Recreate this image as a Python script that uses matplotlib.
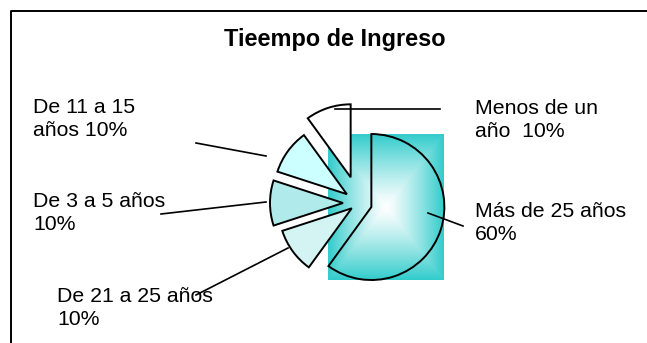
import numpy as np
import matplotlib
matplotlib.use("Agg")
import matplotlib.pyplot as plt

plt.rcParams['font.family'] = ['Liberation Sans', 'DejaVu Sans']

# datos
categorias = ['Más de 25 años', 'De 21 a 25 años', 'De 3 a 5 años', 'De 11 a 15 años', 'Menos de un año']
porcentajes = [60, 10, 10, 10, 10]
etiquetas = ['Más de 25 años\n60%', 'De 21 a 25 años\n10%', 'De 3 a 5 años\n10%',
             'De 11 a 15\naños 10%', 'Menos de un\naño  10%']
titulo = 'Tieempo de Ingreso'

W, H = 647, 343
fig = plt.figure(figsize=(W / 100, H / 100), dpi=100)
ax = fig.add_axes([0, 0, 1, 1])

def iy(y):
    # coordenada de imagen (y hacia abajo) -> datos
    return H - y

# porciones separadas como en el original (en unidades de datos = píxeles)
separacion = [13, 9, 16, 15, 27]
colores = ['none', '#D4F4F4', '#B0EAEA', '#CCFFFF', '#FFFFFF']
radio = 73
centro = (359, iy(203))

wedges, _ = ax.pie(porcentajes, explode=separacion, colors=colores, startangle=90,
                   counterclock=False, center=centro, radius=radio,
                   wedgeprops=dict(edgecolor='black', linewidth=1.4))

# relleno degradado (caja) detrás de la porción grande
bb = wedges[0].get_path().get_extents()
u = np.linspace(-1, 1, 200)
t = np.maximum(np.abs(u)[None, :], np.abs(u)[:, None]) ** 1.2
teal = np.array([0.2, 0.8, 0.8])
img = (1 - t)[..., None] * np.ones(3) + t[..., None] * teal
ax.imshow(img, extent=(bb.x0, bb.x1, bb.y0, bb.y1), origin='lower', aspect='auto', zorder=0)

# textos y líneas guía (y = línea base de la última línea)
pos_texto = [(475, 240), (57, 325), (33, 230), (33, 136), (475, 137)]
guias = [((428, 213), (463, 226)), ((196, 295), (288, 248)), ((161, 214), (266, 202)),
         ((196, 143), (266, 156)), ((335, 109), (440, 109))]
for txt, (x, y), ((x0, y0), (x1, y1)) in zip(etiquetas, pos_texto, guias):
    ax.text(x, iy(y), txt, fontsize=15.3, ha='left', va='baseline', linespacing=1.28, zorder=3)
    ax.plot([x0, x1], [iy(y0), iy(y1)], color='black', lw=1.2, zorder=4)

ax.text(335, iy(46), titulo, fontsize=16.9, fontweight='bold', ha='center', va='baseline')

# marco
ax.plot([11, 11, W], [0, iy(11), iy(11)], color='black', lw=1.4)

ax.set_xlim(0, W)
ax.set_ylim(0, H)
ax.set_aspect('auto')
ax.axis('off')

fig.savefig('out.png', dpi=100)
